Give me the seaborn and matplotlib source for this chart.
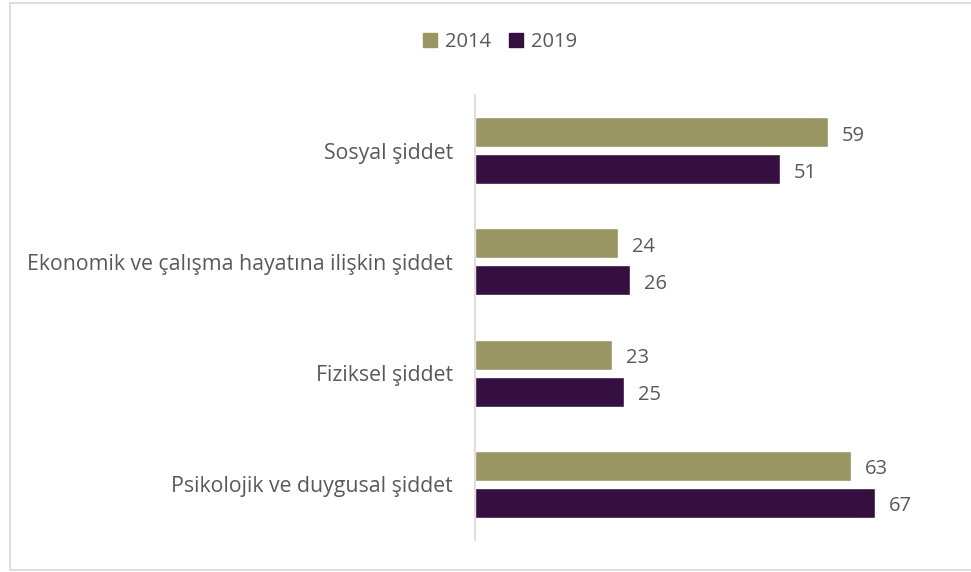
import matplotlib
matplotlib.use("Agg")
import matplotlib.pyplot as plt
from matplotlib.patches import Rectangle
import seaborn as sns
import pandas as pd

categories = [
    "Sosyal şiddet",
    "Ekonomik ve çalışma hayatına ilişkin şiddet",
    "Fiziksel şiddet",
    "Psikolojik ve duygusal şiddet",
]
years = ["2014", "2019"]
values_2014 = [59, 24, 23, 63]
values_2019 = [51, 26, 25, 67]
colors = ["#9A9664", "#350F40"]

df = pd.DataFrame({
    "kategori": categories * 2,
    "yil": [years[0]] * len(categories) + [years[1]] * len(categories),
    "deger": values_2014 + values_2019,
})

sns.set_theme(style="white")
plt.rcParams["font.family"] = ["Open Sans", "DejaVu Sans"]
text_color = "#595959"

fig = plt.figure(figsize=(9.71, 5.72), dpi=100)
ax = fig.add_axes([475 / 971, 1 - 540 / 572, (953 - 475) / 971, (540 - 95) / 572])

sns.barplot(
    data=df, y="kategori", x="deger", hue="yil", order=categories,
    hue_order=years, palette=colors, orient="h", width=0.665, gap=0.19,
    ax=ax, legend=False, saturation=1,
)

for container in ax.containers:
    texts = ax.bar_label(container, padding=10, fontsize=14.5, color=text_color)
    for t in texts:
        x_off, y_off = t.xyann
        t.xyann = (x_off, y_off - 2.5)

ax.set_xlim(0, 80)
ax.set_ylim(3.5, -0.5)
ax.set_xlabel("")
ax.set_ylabel("")
ax.set_xticks([])
ax.tick_params(axis="y", length=0, pad=16, labelsize=15.3, labelcolor=text_color)
for side in ["top", "right", "bottom"]:
    ax.spines[side].set_visible(False)
ax.spines["left"].set_color("#D9D9D9")
ax.spines["left"].set_linewidth(1.2)

handles = [Rectangle((0, 0), 1, 1, color=c) for c in colors]
fig.legend(
    handles, years, loc="center", bbox_to_anchor=(500 / 971, 1 - 42 / 572), ncol=2,
    frameon=False, fontsize=14.5, labelcolor=text_color, handlelength=0.7,
    handleheight=0.7, handletextpad=0.4, columnspacing=0.9,
)

fig.patches.append(Rectangle(
    (9.5 / 971, 1 - 569.5 / 572), 1.0, (567 / 572), transform=fig.transFigure,
    fill=False, edgecolor="#D9D9D9", linewidth=1.2,
))

fig.savefig("out.png", dpi=100, facecolor="white")
